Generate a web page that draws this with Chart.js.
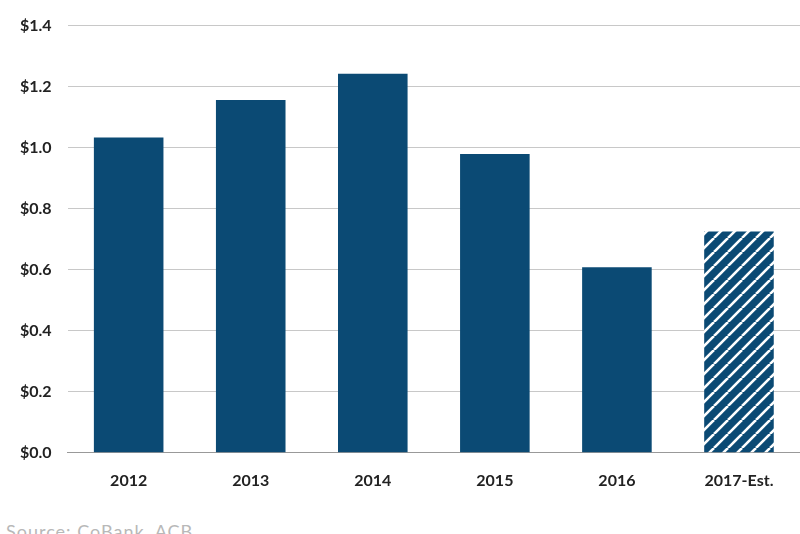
<!DOCTYPE html>
<html><head><meta charset="utf-8">
<script src="https://cdn.jsdelivr.net/npm/chart.js@4/dist/chart.umd.min.js"></script>
<style>
html,body{margin:0;padding:0;background:#fff;width:800px;height:534px;overflow:hidden;position:relative}
#wrap{position:absolute;left:0;top:0;width:800px;height:500px}
#src{position:absolute;left:6px;top:520px;font:18px Lato,"Open Sans",sans-serif;color:#b8b8b8;letter-spacing:1px}
</style></head><body>
<div id="wrap"><canvas id="c"></canvas></div>
<div id="src">Source:  CoBank, ACB</div>
<script>
const categories=["2012","2013","2014","2015","2016","2017-Est."];
const values=[1.033,1.156,1.242,0.979,0.608,0.725];
const yTicks=[0,0.2,0.4,0.6,0.8,1.0,1.2,1.4];
const navy="#0b4a74";
function hatch(){
  const s=14,c=document.createElement("canvas");c.width=s;c.height=s;
  const x=c.getContext("2d");x.fillStyle=navy;x.fillRect(0,0,s,s);
  x.strokeStyle="#fff";x.lineWidth=2.6;
  for(const o of [-s,0,s]){x.beginPath();x.moveTo(o,s);x.lineTo(o+s,0);x.stroke();}
  return x.createPattern(c,"repeat");
}
const ctx=document.getElementById("c").getContext("2d");
const pat=hatch();
new Chart(ctx,{type:"bar",
data:{labels:categories,datasets:[{data:values,backgroundColor:values.map((v,i)=>i===5?pat:navy),barPercentage:0.57,categoryPercentage:1}]},
options:{responsive:true,maintainAspectRatio:false,animation:false,
layout:{padding:{top:12,right:0,left:4,bottom:0}},
plugins:{legend:{display:false},tooltip:{enabled:false}},
scales:{
x:{grid:{display:false},border:{color:"#999"},ticks:{color:"#222",font:{family:"Lato",size:16,weight:"bold"},padding:10}},
y:{min:0,max:1.4,afterBuildTicks:a=>{a.ticks=yTicks.map(v=>({value:v}))},
grid:{color:"#c8c8c8",drawTicks:false},border:{display:false},
ticks:{color:"#222",padding:16,font:{family:"Lato",size:16,weight:"bold"},callback:v=>"$"+v.toFixed(1)}}
}}});
</script></body></html>
